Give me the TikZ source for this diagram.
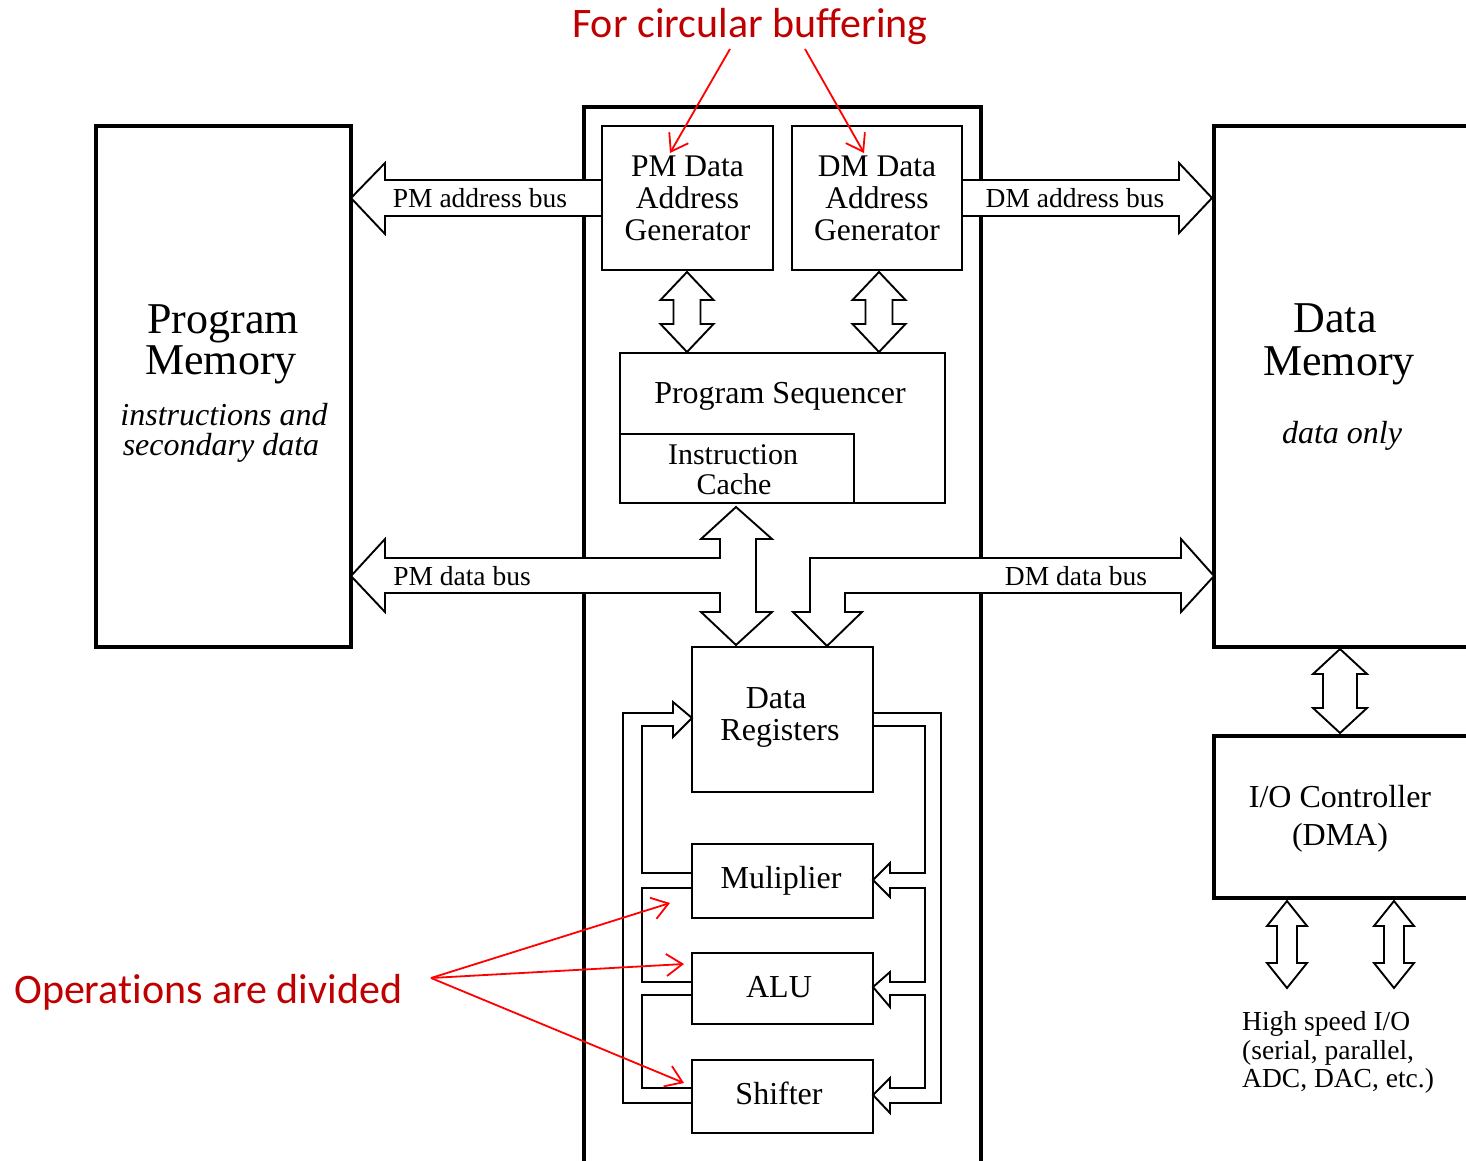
\documentclass[tikz,border=0pt]{standalone}
\usepackage{fontspec}
\setmainfont{Liberation Serif}
\newfontfamily\calfont[Ligatures=NoCommon]{Carlito}
\usetikzlibrary{arrows.meta,calc}
\definecolor{notered}{RGB}{192,0,0}
\newcommand\vdarr[6]{%
  \draw[bus] (#1,#2) -- ({#1+#4},{#2+#6}) -- ({#1+#5},{#2+#6}) -- ({#1+#5},{#3-#6}) -- ({#1+#4},{#3-#6}) -- (#1,#3) -- ({#1-#4},{#3-#6}) -- ({#1-#5},{#3-#6}) -- ({#1-#5},{#2+#6}) -- ({#1-#4},{#2+#6}) -- cycle;}
\begin{document}
\begin{tikzpicture}[x=1pt,y=-1pt,
  thickbox/.style={draw, line width=3.5pt, inner sep=0pt, fill=white},
  unit/.style={draw, fill=white, line width=1.9pt, inner sep=0pt, align=center},
  bus/.style={draw, fill=white, line width=1.9pt, line join=miter},
  fb/.style={draw, line width=1.9pt, line join=miter},
  lbl/.style={inner sep=0pt, anchor=base},
  bigtxt/.style={font=\fontsize{44}{44}\selectfont},
  midtxt/.style={font=\fontsize{32}{32}\selectfont},
  ittxt/.style={font=\itshape\fontsize{32}{32}\selectfont},
  bustxt/.style={inner sep=0pt, font=\fontsize{27.5}{27.5}\selectfont},
  note/.style={text=notered, font=\calfont\fontsize{42}{42}\selectfont, inner sep=0pt},
  annot/.style={draw=red, line width=1.8pt, -{Straight Barb[length=16pt,width=22pt]}},
]
\useasboundingbox (0,0) rectangle (1466,1161);
\fill[white] (0,0) rectangle (1466,1161);

% big blocks
\node[thickbox, minimum width=397pt, minimum height=1080pt] (core) at (782.5,647) {};
\node[thickbox, minimum width=255pt, minimum height=521pt] (pm) at (223.5,386.5) {};
\node[thickbox, minimum width=266pt, minimum height=521pt] (dm) at (1347,386.5) {};
\node[thickbox, minimum width=266pt, minimum height=162pt] (io) at (1347,817) {};

% buses
\draw[bus] (602,180) -- (385,180) -- (385,163) -- (351,198) -- (385,234) -- (385,216) -- (602,216);
\draw[bus] (963,180) -- (1179,180) -- (1179,163) -- (1212,198) -- (1179,233) -- (1179,216) -- (963,216);
\draw[bus] (736,507) -- (772,539) -- (756,539) -- (756,612) -- (772,612) -- (736,645) -- (701,612) -- (720,612) -- (720,593) -- (385,593) -- (385,612) -- (351,576) -- (385,539) -- (385,558) -- (720,558) -- (720,539) -- (701,539) -- cycle;
\draw[bus] (827,646) -- (793,612) -- (810,612) -- (810,558) -- (1181,558) -- (1181,539) -- (1214,576) -- (1181,612) -- (1181,593) -- (845,593) -- (845,612) -- (862,612) -- cycle;

% units
\node[unit, font=\fontsize{31.5}{32}\selectfont, minimum width=171pt, minimum height=144pt] (pmag) at (687.5,198) {PM Data\\Address\\Generator};
\node[unit, font=\fontsize{31.5}{32}\selectfont, minimum width=170pt, minimum height=144pt] (dmag) at (877,198) {DM Data\\Address\\Generator};
\node[unit, minimum width=325pt, minimum height=150pt] (seq) at (782.5,428) {};
\node[unit, minimum width=234pt, minimum height=69pt] (cache) at (737,468.5) {};
\node[unit, minimum width=181pt, minimum height=145pt] (dreg) at (782.5,719.5) {};
\node[unit, minimum width=181pt, minimum height=74pt] (mul) at (782.5,881) {};
\node[unit, minimum width=181pt, minimum height=71pt] (alu) at (782.5,988.5) {};
\node[unit, minimum width=181pt, minimum height=73pt] (shf) at (782.5,1096.5) {};

% vertical double arrows
\vdarr{687}{272}{352}{26.5}{13.5}{28}
\vdarr{879}{272}{352}{26.5}{13.5}{28}
\vdarr{1340}{649}{733}{27}{17}{25}
\vdarr{1287}{901}{988}{20}{10}{25}
\vdarr{1394}{901}{988}{20}{10}{25}

% feedback channels
\draw[fb] (692,1103) -- (623,1103) -- (623,713) -- (673,713) -- (673,702) -- (692,718) -- (673,737) -- (673,726) -- (642,726) -- (642,873) -- (692,873);
\draw[fb] (692,888) -- (642,888) -- (642,982) -- (692,982);
\draw[fb] (692,995) -- (642,995) -- (642,1088) -- (692,1088);
\draw[fb] (873,713) -- (941,713) -- (941,1103) -- (890,1103) -- (890,1113) -- (873,1095) -- (890,1078) -- (890,1088) -- (925,1088) -- (925,995) -- (890,995) -- (890,1007) -- (873,987) -- (890,972) -- (890,982) -- (925,982) -- (925,888) -- (890,888) -- (890,897) -- (873,880) -- (890,863) -- (890,873) -- (925,873) -- (925,726) -- (873,726);

% texts
\node[lbl, bigtxt] (pmt1) at (223,333) {Program};
\node[lbl, bigtxt] (pmt2) at (221,374) {Memory};
\node[lbl, ittxt] (pmt3) at (224,425) {instructions and};
\node[lbl, ittxt] (pmt4) at (221,455) {secondary data};
\node[lbl, bigtxt] (dmt1) at (1335,332) {Data};
\node[lbl, bigtxt] (dmt2) at (1339,375) {Memory};
\node[lbl, ittxt] (dmt3) at (1342,443) {data only};
\node[lbl, midtxt] (seqt) at (780,403) {Program Sequencer};
\node[lbl, font=\fontsize{30}{30}\selectfont] (cat1) at (733,464) {Instruction};
\node[lbl, font=\fontsize{30}{30}\selectfont] (cat2) at (734,494) {Cache};
\node[lbl, midtxt] (dregt1) at (776,708) {Data};
\node[lbl, midtxt] (dregt2) at (780,740) {Registers};
\node[lbl, midtxt] (mult) at (781,888) {Muliplier};
\node[lbl, midtxt] (alut) at (779,997) {ALU};
\node[lbl, midtxt] (shft) at (779,1104) {Shifter};
\node[lbl, midtxt] (iot1) at (1340,807) {I/O Controller};
\node[lbl, midtxt] (iot2) at (1340,845) {(DMA)};
\node[bustxt] (pmab) at (480,198) {PM address bus};
\node[bustxt] (dmab) at (1075,198) {DM address bus};
\node[bustxt] (pmdb) at (462,576) {PM data bus};
\node[bustxt] (dmdb) at (1076,576) {DM data bus};
\node[bustxt, anchor=base west] (hs1) at (1242,1030) {High speed I/O};
\node[bustxt, anchor=base west] (hs2) at (1242,1059) {(serial, parallel,};
\node[bustxt, anchor=base west] (hs3) at (1242,1087) {ADC, DAC, etc.)};

% annotations
\node[note, anchor=base] (circ) at (750,38) {For circular buffering};
\node[note, anchor=base west] (ops) at (14,1003) {Operations are divided};
\coordinate (c1s) at (730,49);
\coordinate (c1e) at (670,153);
\coordinate (c2s) at (805,49);
\coordinate (c2e) at (864,153);
\coordinate (o0) at (431,978);
\coordinate (o1) at (670,903);
\coordinate (o2) at (684,964);
\coordinate (o3) at (684,1083);
\draw[annot] (c1s) -- (c1e);
\draw[annot] (c2s) -- (c2e);
\draw[annot] (o0) -- (o1);
\draw[annot] (o0) -- (o2);
\draw[annot] (o0) -- (o3);
\end{tikzpicture}
\end{document}
